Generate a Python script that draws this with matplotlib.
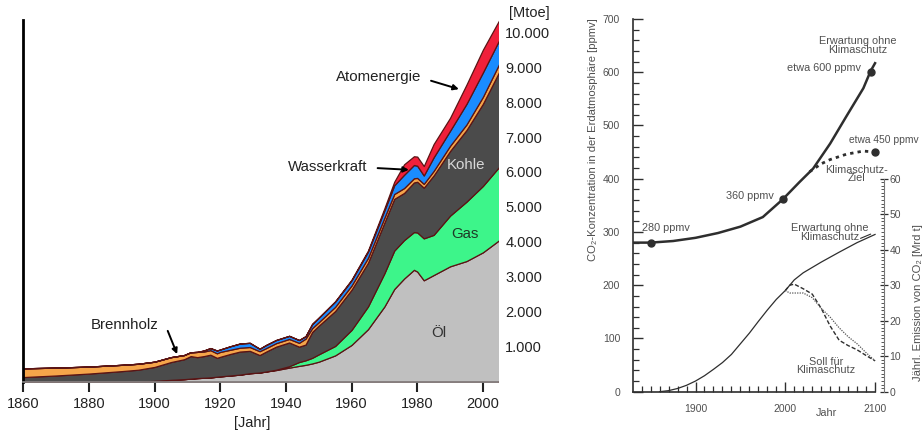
import numpy as np
import matplotlib
matplotlib.use("Agg")
import matplotlib.pyplot as plt
from matplotlib.ticker import MultipleLocator, FixedLocator

plt.rcParams['font.family'] = ['Liberation Sans', 'DejaVu Sans']

# --- left chart: world primary energy by source [Mtoe] ---
years = [1860, 1870, 1880, 1890, 1895, 1900, 1905, 1909, 1911, 1913, 1915, 1917, 1919, 1920,
         1923, 1926, 1929, 1932, 1934, 1937, 1941, 1944, 1946, 1948, 1950, 1955, 1960, 1965,
         1970, 1973, 1976, 1979, 1980, 1982, 1985, 1990, 1995, 2000, 2005]
oel = [0, 0, 0, 0, 0, 20, 50, 70, 85, 100, 110, 120, 140, 150,
       175, 200, 240, 260, 290, 330, 400, 450, 480, 520, 570, 750, 1050, 1500,
       2150, 2650, 2950, 3200, 3150, 2900, 3050, 3300, 3450, 3700, 4050]
gas = [0, 0, 0, 0, 0, 0, 0, 0, 0, 0, 0, 0, 0, 0,
       0, 0, 0, 0, 0, 10, 40, 110, 130, 160, 210, 270, 430, 650,
       950, 1100, 1100, 1080, 1120, 1200, 1150, 1450, 1700, 1900, 2100]
kohle = [130, 175, 230, 300, 340, 400, 510, 570, 645, 600, 620, 650, 540, 560,
         615, 660, 640, 500, 570, 660, 680, 440, 450, 740, 820, 1000, 1150, 1250,
         1450, 1480, 1350, 1420, 1450, 1450, 1700, 1850, 2050, 2350, 2720]
holz = [250, 225, 200, 180, 170, 150, 140, 120, 110, 150, 130, 130, 130, 140,
        120, 110, 110, 110, 100, 100, 100, 110, 170, 110, 100, 120, 120, 140,
        140, 140, 140, 120, 110, 110, 130, 150, 160, 200, 230]
wasser = [0, 0, 0, 0, 0, 0, 0, 0, 0, 0, 30, 60, 80, 70,
          100, 120, 120, 70, 90, 90, 90, 80, 70, 120, 130, 150, 150, 180,
          210, 250, 380, 380, 350, 240, 390, 430, 590, 700, 680]
atom = [0, 0, 0, 0, 0, 0, 0, 0, 0, 0, 0, 0, 0, 0,
        0, 0, 0, 0, 0, 0, 0, 0, 0, 0, 0, 10, 20, 30,
        60, 100, 300, 250, 260, 270, 380, 370, 550, 650, 570]
layer_colors = ['#c0c0c0', '#3df58a', '#4b4b4b', '#f5a54a', '#1a8cff', '#f0203a']
mtoe_ticks = list(range(1000, 10001, 1000))
year_ticks = list(range(1860, 2001, 20))

# --- right chart: CO2 concentration [ppmv] and emissions [Mrd t] ---
konz_jahr = [1830, 1850, 1875, 1900, 1925, 1950, 1975, 1997, 2016, 2031, 2050, 2068, 2087, 2095, 2100]
konz_ppm = [280, 280, 283, 289, 298, 310, 328, 361, 394, 419, 466, 517, 570, 602, 617]
ziel_jahr = [2027, 2040, 2050, 2068, 2087, 2100]
ziel_ppm = [413, 428, 436, 446, 452, 450]
punkt_jahr = [1850, 1997, 2096, 2100]
punkt_ppm = [280, 361, 600, 450]

emis_jahr = [1860, 1870, 1880, 1890, 1900, 1910, 1920, 1930, 1940, 1950, 1960, 1970, 1980,
             1990, 2000, 2010, 2020, 2040, 2060, 2080, 2100]
emis_ohne = [0, 0.3, 0.9, 1.8, 3.0, 4.5, 6.3, 8.2, 10.5, 13.5, 16.5, 19.8, 23.0,
             26.0, 28.5, 31.5, 33.5, 36.5, 39.3, 42.0, 44.3]
soll_jahr = [2000, 2005, 2010, 2020, 2030, 2040, 2050, 2060, 2070, 2080, 2090, 2100]
soll_a = [28.5, 30.0, 30.3, 29.0, 27.5, 23.5, 18.5, 14.5, 13.0, 11.8, 10.2, 8.7]
soll_b = [28.5, 27.8, 27.8, 27.8, 26.5, 23.5, 21.0, 18.0, 15.5, 13.5, 11.0, 8.7]

fig = plt.figure(figsize=(9.22, 4.33), dpi=100)

# ---------------- left chart ----------------
ax = fig.add_axes([0.02516, 0.1187, 0.5153, 0.8351])
ax.stackplot(years, oel, gas, kohle, holz, wasser, atom, colors=layer_colors,
             edgecolor='#5a1414', linewidth=0.9)
ax.set_xlim(1860, 2004.7)
ax.set_ylim(0, 10350)
for s in ['top', 'right']:
    ax.spines[s].set_visible(False)
ax.spines['left'].set_linewidth(2)
ax.spines['left'].set_color('black')
ax.spines['bottom'].set_color('#888888')
ax.spines['bottom'].set_linewidth(1.2)

ax.yaxis.tick_right()
ax.set_yticks(mtoe_ticks)
ax.set_yticklabels([f"{v:,}".replace(',', '.') for v in mtoe_ticks], fontsize=10.5, color='#222222')
ax.tick_params(axis='y', length=0, pad=5)
ax.set_xticks(year_ticks)
ax.set_xticklabels([str(y) for y in year_ticks], fontsize=10.5, color='#222222')
ax.tick_params(axis='x', direction='out', length=7, width=1.5, color='#222222', pad=4)

fig.text(529 / 922, 1 - 13 / 433, '[Mtoe]', fontsize=10.5, ha='center', va='center', color='#222222')
fig.text(252 / 922, 1 - 423 / 433, '[Jahr]', fontsize=10.5, ha='center', va='center', color='#222222')

arrow = dict(arrowstyle='-|>', color='black', lw=1.4, mutation_scale=8)
ax.text(1968.3, 8729, 'Atomenergie', fontsize=10.8, ha='center', va='center', color='#222222')
ax.annotate('', xy=(1993.5, 8348), xytext=(1983.4, 8634), arrowprops=arrow)
ax.text(1952.7, 6152, 'Wasserkraft', fontsize=10.8, ha='center', va='center', color='#222222')
ax.annotate('', xy=(1978.3, 6058), xytext=(1967.1, 6115), arrowprops=arrow)
ax.text(1891.0, 1620, 'Brennholz', fontsize=10.8, ha='center', va='center', color='#222222')
ax.annotate('', xy=(1907.2, 713), xytext=(1903.7, 1526), arrowprops=arrow)
ax.text(1994.8, 6201, 'Kohle', fontsize=10.8, ha='center', va='center', color='#d8d8d8')
ax.text(1994.5, 4226, 'Gas', fontsize=10.8, ha='center', va='center', color='#1e3a26')
ax.text(1986.6, 1391, 'Öl', fontsize=10.8, ha='center', va='center', color='#333333')

# ---------------- right chart ----------------
grey = '#505050'
line = '#2e2e2e'
axr = fig.add_axes([0.6862, 0.0954, 0.2726, 0.8607])
axr.set_xlim(1830, 2110)
axr.set_ylim(0, 700)
axr.spines['top'].set_visible(False)
axr.spines['right'].set_visible(False)
axr.spines['bottom'].set_bounds(1830, 2100)
for s in ['left', 'bottom']:
    axr.spines[s].set_color(line)
    axr.spines[s].set_linewidth(1.2)
axr.set_xticks([1900, 2000, 2100])
axr.xaxis.set_minor_locator(FixedLocator(list(range(1840, 2100, 10))))
axr.yaxis.set_major_locator(MultipleLocator(100))
axr.yaxis.set_minor_locator(MultipleLocator(20))
axr.tick_params(which='major', direction='in', length=7, width=1.0, color=line,
                labelsize=7.5, labelcolor=grey)
axr.tick_params(which='minor', direction='in', length=4, width=0.9, color=line)
axr.tick_params(axis='x', which='major', pad=9)
axr.tick_params(axis='y', which='major', pad=9)

axr.plot(konz_jahr, konz_ppm, color=line, lw=1.8)
axr.plot(ziel_jahr, ziel_ppm, color=line, lw=2.0, linestyle=(0, (1.2, 1.5)))
axr.plot(punkt_jahr, punkt_ppm, 'o', color=line, markersize=5)

ax2 = axr.twinx()
ax2.set_ylim(0, 105)
for s in ['top', 'left', 'bottom']:
    ax2.spines[s].set_visible(False)
ax2.spines['right'].set_bounds(0, 60)
ax2.spines['right'].set_color('#777777')
ax2.spines['right'].set_linewidth(0.8)
ax2.yaxis.set_major_locator(FixedLocator(list(range(0, 61, 10))))
ax2.yaxis.set_minor_locator(FixedLocator(list(range(0, 61, 1))))
ax2.tick_params(which='major', direction='inout', length=6, width=0.9, color=line,
                labelsize=7.5, labelcolor=grey, pad=1)
ax2.tick_params(which='minor', direction='in', length=2.5, width=0.7, color='#555555')

ax2.plot(emis_jahr, emis_ohne, color=line, lw=0.9)
ax2.plot(soll_jahr, soll_a, color=line, lw=1.0, linestyle=(0, (3, 1.5)))
ax2.plot(soll_jahr, soll_b, color='#555555', lw=0.9, linestyle=(0, (1, 1)))

tkw = dict(fontsize=7.8, color=grey, ha='center', va='center', linespacing=0.85)
axr.text(2081, 650, 'Erwartung ohne\nKlimaschutz', **tkw)
axr.text(2084.6, 608, 'etwa 600 ppmv', fontsize=7.8, color=grey, ha='right', va='center')
axr.text(2070.5, 473, 'etwa 450 ppmv', fontsize=7.4, color=grey, ha='left', va='center', clip_on=False)
axr.text(2079.6, 409, 'Klimaschutz-\nZiel', **tkw)
axr.text(1960.2, 367.6, '360 ppmv', fontsize=7.8, color=grey, ha='center', va='center')
axr.text(1866.5, 307.5, '280 ppmv', fontsize=7.8, color=grey, ha='center', va='center')
axr.text(2050, 299, 'Erwartung ohne\nKlimaschutz', **tkw)
axr.annotate('', xy=(2098, 298), xytext=(2081, 286),
             arrowprops=dict(arrowstyle='-', color=line, lw=0.8))
axr.text(2045, 48.3, 'Soll für\nKlimaschutz', **tkw)
axr.text(2045.8, -40, 'Jahr', fontsize=7.8, color=grey, ha='center', va='center', clip_on=False)

fig.text(593 / 922, 1 - 140 / 433, 'CO₂-Konzentration in der Erdatmosphäre [ppmv]',
         rotation=90, fontsize=8.1, color=grey, ha='center', va='center')
fig.text(918 / 922, 1 - 303 / 433, 'Jährl. Emission von CO₂ [Mrd t]',
         rotation=90, fontsize=8.1, color=grey, ha='center', va='center')

fig.savefig('out.png', dpi=100)
